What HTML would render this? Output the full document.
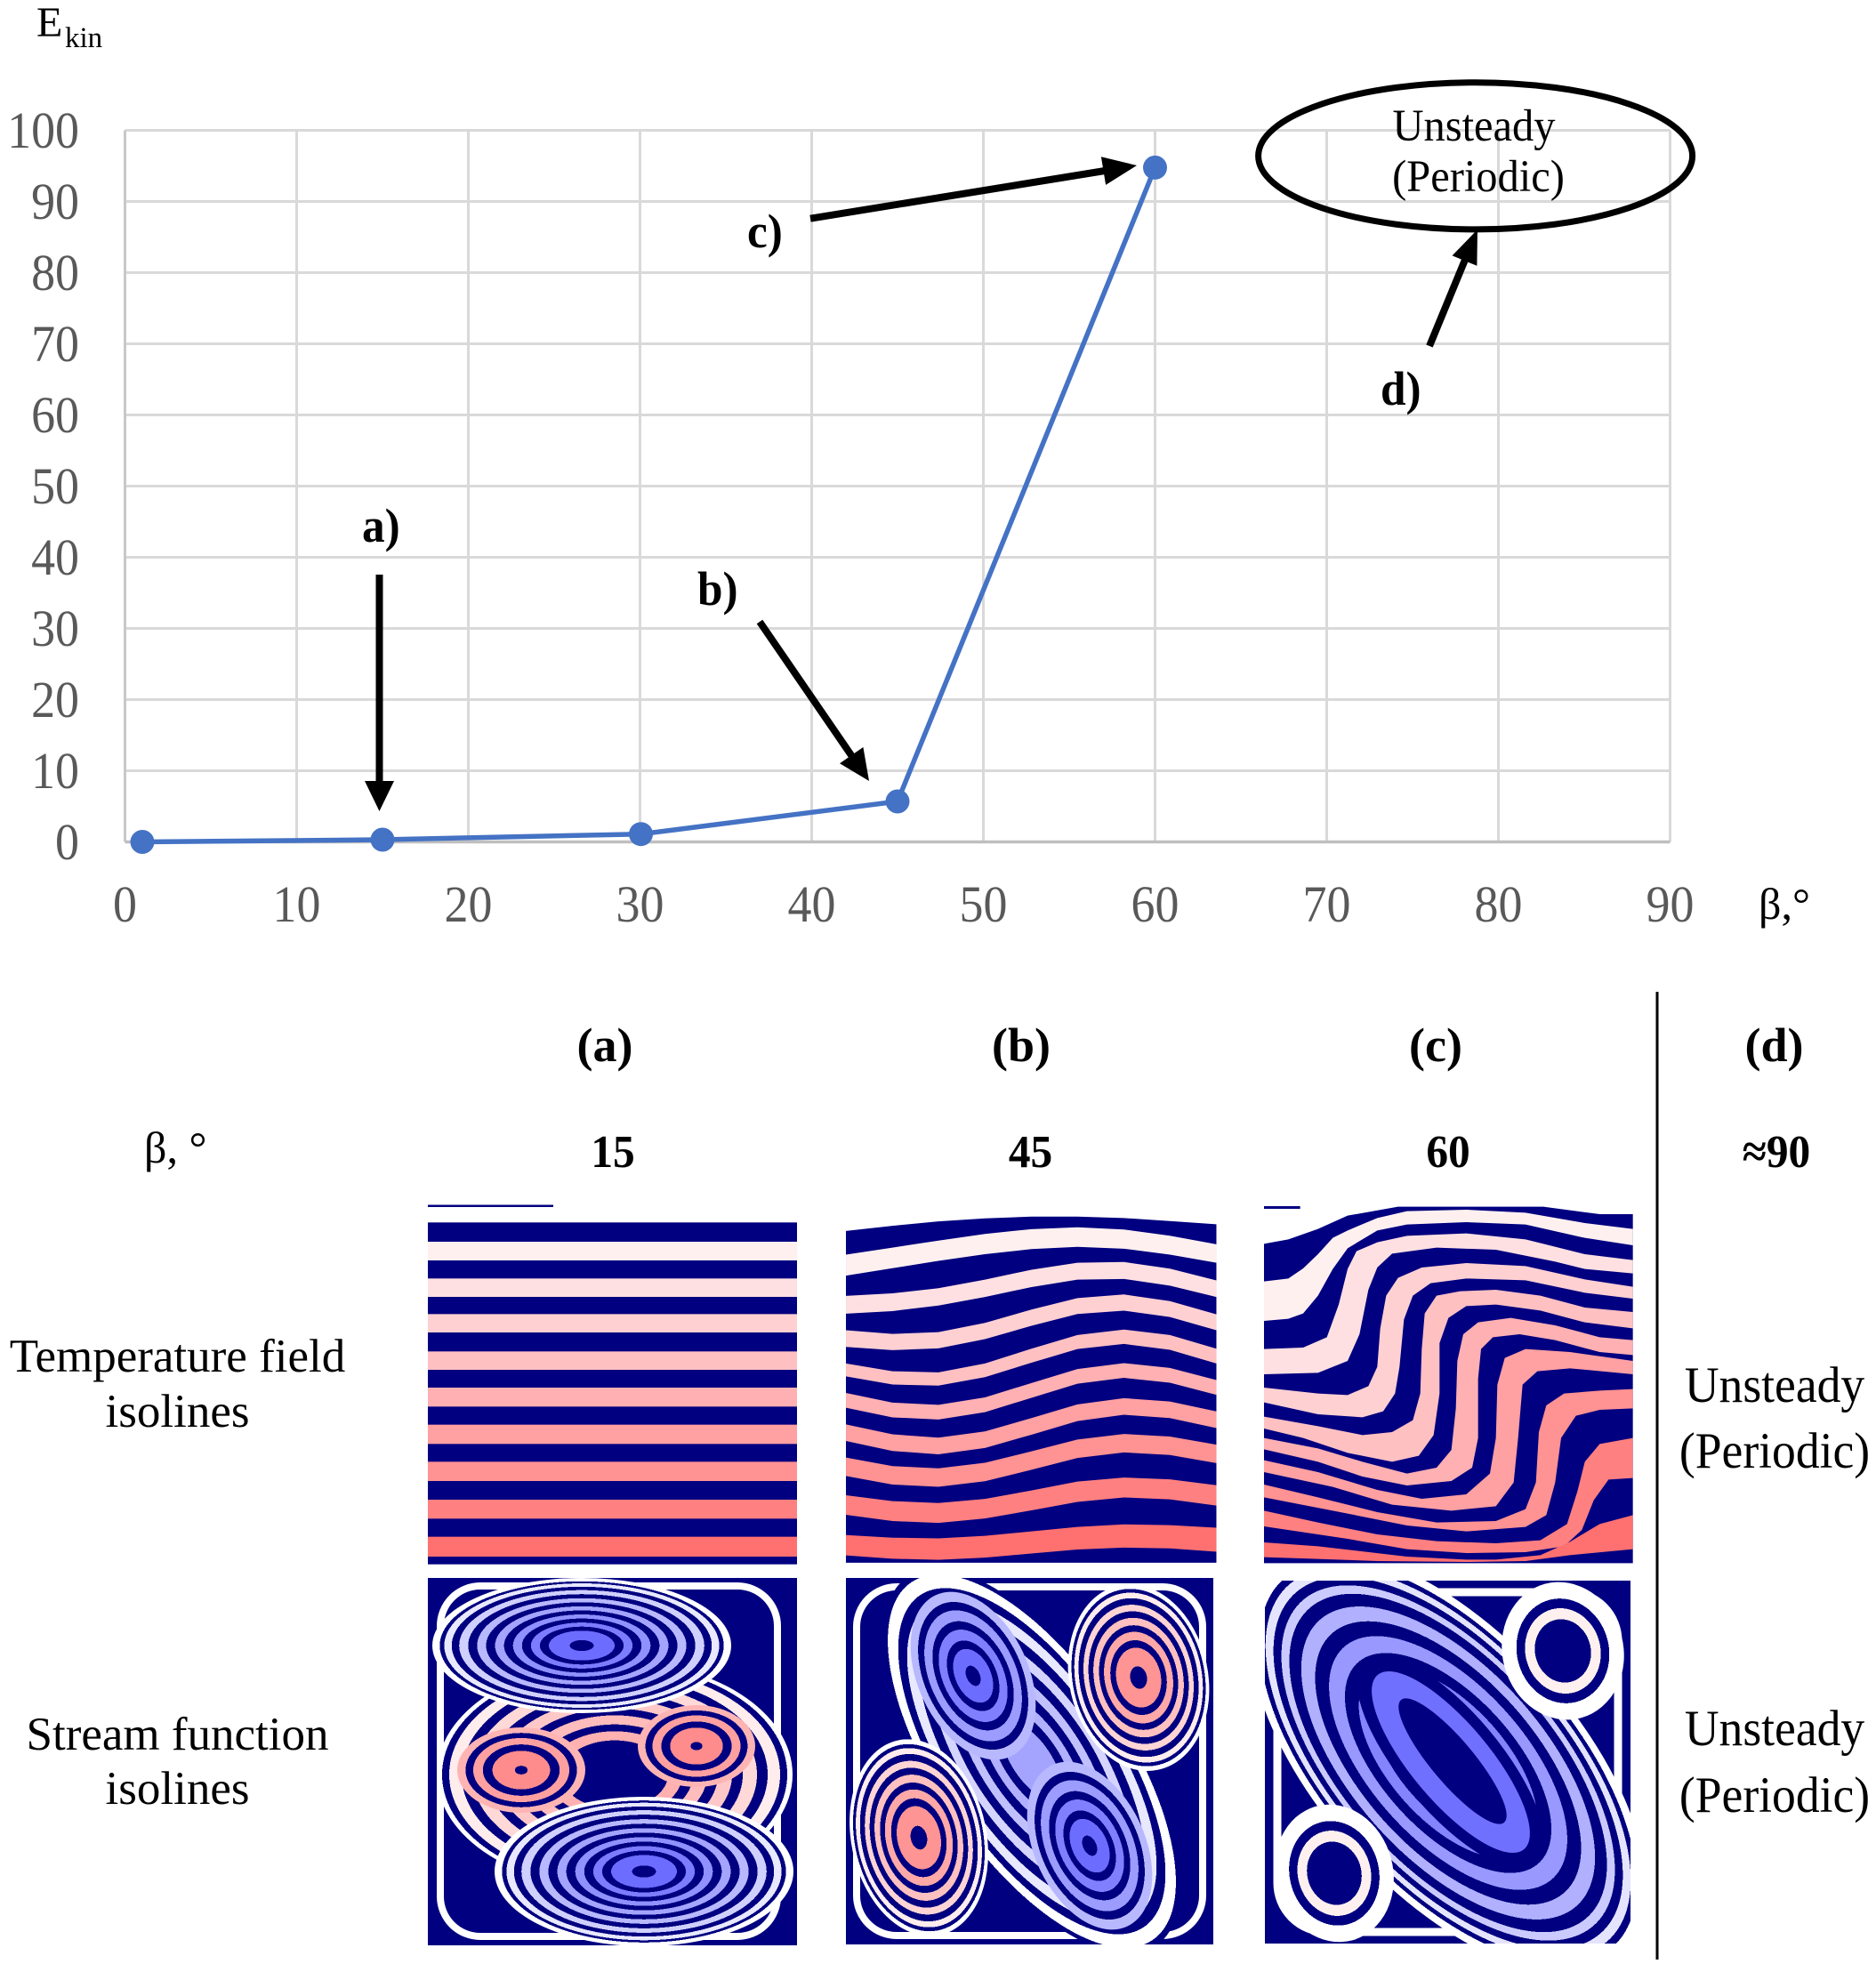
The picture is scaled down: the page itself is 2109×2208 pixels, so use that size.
<!DOCTYPE html>
<html><head><meta charset="utf-8">
<style>
html,body{margin:0;padding:0;background:#fff}
svg{display:block}
text{font-family:"Liberation Serif","Times New Roman",serif}
</style></head>
<body>
<svg width="2109" height="2208" viewBox="0 0 2109 2208" xmlns="http://www.w3.org/2000/svg">
<defs>
<radialGradient id="gBa">
<stop offset="0" stop-color="#000080"/><stop offset=".08" stop-color="#000080"/>
<stop offset=".08" stop-color="#6c6cff"/><stop offset=".22" stop-color="#6c6cff"/>
<stop offset=".22" stop-color="#000080"/><stop offset=".28" stop-color="#000080"/>
<stop offset=".28" stop-color="#7c7cff"/><stop offset=".34" stop-color="#7c7cff"/>
<stop offset=".34" stop-color="#000080"/><stop offset=".4" stop-color="#000080"/>
<stop offset=".4" stop-color="#9090ff"/><stop offset=".46" stop-color="#9090ff"/>
<stop offset=".46" stop-color="#000080"/><stop offset=".52" stop-color="#000080"/>
<stop offset=".52" stop-color="#a4a4ff"/><stop offset=".58" stop-color="#a4a4ff"/>
<stop offset=".58" stop-color="#000080"/><stop offset=".64" stop-color="#000080"/>
<stop offset=".64" stop-color="#b8b8ff"/><stop offset=".7" stop-color="#b8b8ff"/>
<stop offset=".7" stop-color="#000080"/><stop offset=".76" stop-color="#000080"/>
<stop offset=".76" stop-color="#d0d0ff"/><stop offset=".82" stop-color="#d0d0ff"/>
<stop offset=".82" stop-color="#000080"/><stop offset=".87" stop-color="#000080"/>
<stop offset=".87" stop-color="#e8e8ff"/><stop offset=".92" stop-color="#e8e8ff"/>
<stop offset=".92" stop-color="#000080"/><stop offset=".95" stop-color="#000080"/>
<stop offset=".95" stop-color="#fff"/><stop offset="1" stop-color="#fff"/>
</radialGradient>
<radialGradient id="gB2">
<stop offset="0" stop-color="#000080"/><stop offset=".12" stop-color="#000080"/>
<stop offset=".12" stop-color="#6c6cff"/><stop offset=".32" stop-color="#6c6cff"/>
<stop offset=".32" stop-color="#000080"/><stop offset=".42" stop-color="#000080"/>
<stop offset=".42" stop-color="#8080ff"/><stop offset=".55" stop-color="#8080ff"/>
<stop offset=".55" stop-color="#000080"/><stop offset=".65" stop-color="#000080"/>
<stop offset=".65" stop-color="#9c9cff"/><stop offset=".78" stop-color="#9c9cff"/>
<stop offset=".78" stop-color="#000080"/><stop offset=".88" stop-color="#000080"/>
<stop offset=".88" stop-color="#b8b8ff"/><stop offset="1" stop-color="#b8b8ff"/>
</radialGradient>
<radialGradient id="gBS">
<stop offset="0" stop-color="#a4a4ff"/><stop offset=".2" stop-color="#a4a4ff"/>
<stop offset=".2" stop-color="#000080"/><stop offset=".28" stop-color="#000080"/>
<stop offset=".28" stop-color="#b0b0ff"/><stop offset=".36" stop-color="#b0b0ff"/>
<stop offset=".36" stop-color="#000080"/><stop offset=".44" stop-color="#000080"/>
<stop offset=".44" stop-color="#c0c0ff"/><stop offset=".52" stop-color="#c0c0ff"/>
<stop offset=".52" stop-color="#000080"/><stop offset=".6" stop-color="#000080"/>
<stop offset=".6" stop-color="#d4d4ff"/><stop offset=".68" stop-color="#d4d4ff"/>
<stop offset=".68" stop-color="#000080"/><stop offset=".76" stop-color="#000080"/>
<stop offset=".76" stop-color="#e8e8ff"/><stop offset=".84" stop-color="#e8e8ff"/>
<stop offset=".84" stop-color="#000080"/><stop offset=".9" stop-color="#000080"/>
<stop offset=".9" stop-color="#fff"/><stop offset=".97" stop-color="#fff"/>
<stop offset=".97" stop-color="#000080"/><stop offset="1" stop-color="#000080"/>
</radialGradient>
<radialGradient id="gP">
<stop offset="0" stop-color="#000080"/><stop offset=".12" stop-color="#000080"/>
<stop offset=".12" stop-color="#ff9494"/><stop offset=".32" stop-color="#ff9494"/>
<stop offset=".32" stop-color="#000080"/><stop offset=".4" stop-color="#000080"/>
<stop offset=".4" stop-color="#ffa8a8"/><stop offset=".49" stop-color="#ffa8a8"/>
<stop offset=".49" stop-color="#000080"/><stop offset=".56" stop-color="#000080"/>
<stop offset=".56" stop-color="#ffc0c0"/><stop offset=".64" stop-color="#ffc0c0"/>
<stop offset=".64" stop-color="#000080"/><stop offset=".71" stop-color="#000080"/>
<stop offset=".71" stop-color="#ffd4d4"/><stop offset=".78" stop-color="#ffd4d4"/>
<stop offset=".78" stop-color="#000080"/><stop offset=".85" stop-color="#000080"/>
<stop offset=".85" stop-color="#ffecec"/><stop offset=".91" stop-color="#ffecec"/>
<stop offset=".91" stop-color="#000080"/><stop offset=".95" stop-color="#000080"/>
<stop offset=".95" stop-color="#fff"/><stop offset="1" stop-color="#fff"/>
</radialGradient>
<radialGradient id="gPa">
<stop offset="0" stop-color="#000080"/><stop offset=".1" stop-color="#000080"/>
<stop offset=".1" stop-color="#ff8c8c"/><stop offset=".45" stop-color="#ff8c8c"/>
<stop offset=".45" stop-color="#000080"/><stop offset=".6" stop-color="#000080"/>
<stop offset=".6" stop-color="#ffa0a0"/><stop offset=".75" stop-color="#ffa0a0"/>
<stop offset=".75" stop-color="#000080"/><stop offset=".87" stop-color="#000080"/>
<stop offset=".87" stop-color="#ffb4b4"/><stop offset="1" stop-color="#ffb4b4"/>
</radialGradient>
<radialGradient id="gPS">
<stop offset="0" stop-color="#000080"/><stop offset=".3" stop-color="#000080"/>
<stop offset=".3" stop-color="#ffb0b0"/><stop offset=".38" stop-color="#ffb0b0"/>
<stop offset=".38" stop-color="#000080"/><stop offset=".44" stop-color="#000080"/>
<stop offset=".44" stop-color="#ffbcbc"/><stop offset=".52" stop-color="#ffbcbc"/>
<stop offset=".52" stop-color="#000080"/><stop offset=".58" stop-color="#000080"/>
<stop offset=".58" stop-color="#ffc8c8"/><stop offset=".66" stop-color="#ffc8c8"/>
<stop offset=".66" stop-color="#000080"/><stop offset=".72" stop-color="#000080"/>
<stop offset=".72" stop-color="#ffd8d8"/><stop offset=".8" stop-color="#ffd8d8"/>
<stop offset=".8" stop-color="#000080"/><stop offset=".86" stop-color="#000080"/>
<stop offset=".86" stop-color="#ffecec"/><stop offset=".93" stop-color="#ffecec"/>
<stop offset=".93" stop-color="#000080"/><stop offset=".97" stop-color="#000080"/>
<stop offset=".97" stop-color="#fff"/><stop offset="1" stop-color="#fff"/>
</radialGradient>
<radialGradient id="gBC">
<stop offset="0" stop-color="#7474ff"/><stop offset=".3" stop-color="#7474ff"/>
<stop offset=".3" stop-color="#000080"/><stop offset=".37" stop-color="#000080"/>
<stop offset=".37" stop-color="#8484ff"/><stop offset=".45" stop-color="#8484ff"/>
<stop offset=".45" stop-color="#000080"/><stop offset=".52" stop-color="#000080"/>
<stop offset=".52" stop-color="#9898ff"/><stop offset=".6" stop-color="#9898ff"/>
<stop offset=".6" stop-color="#000080"/><stop offset=".67" stop-color="#000080"/>
<stop offset=".67" stop-color="#b0b0ff"/><stop offset=".74" stop-color="#b0b0ff"/>
<stop offset=".74" stop-color="#000080"/><stop offset=".8" stop-color="#000080"/>
<stop offset=".8" stop-color="#cacaff"/><stop offset=".84" stop-color="#cacaff"/>
<stop offset=".84" stop-color="#000080"/><stop offset=".88" stop-color="#000080"/>
<stop offset=".88" stop-color="#e4e4ff"/><stop offset=".92" stop-color="#e4e4ff"/>
<stop offset=".92" stop-color="#000080"/><stop offset=".95" stop-color="#000080"/>
<stop offset=".95" stop-color="#fff"/><stop offset="1" stop-color="#fff"/>
</radialGradient>
<radialGradient id="gW">
<stop offset="0" stop-color="#000080"/><stop offset=".46" stop-color="#000080"/>
<stop offset=".46" stop-color="#fff0f0"/><stop offset=".62" stop-color="#fff0f0"/>
<stop offset=".62" stop-color="#000080"/><stop offset=".76" stop-color="#000080"/>
<stop offset=".76" stop-color="#fff"/><stop offset="1" stop-color="#fff"/>
</radialGradient>
<clipPath id="ca"><rect x="481" y="1774" width="415" height="413"/></clipPath>
<clipPath id="cb"><rect x="951" y="1774" width="413" height="412"/></clipPath>
<clipPath id="cc"><rect x="1422" y="1777" width="411" height="408"/></clipPath>
</defs>

<rect width="2109" height="2208" fill="#fff"/>

<!-- ===== CHART GRID ===== -->
<g stroke="#d9d9d9" stroke-width="3">
<line x1="140.5" y1="146.5" x2="1877.5" y2="146.5"/>
<line x1="140.5" y1="226.5" x2="1877.5" y2="226.5"/>
<line x1="140.5" y1="306.5" x2="1877.5" y2="306.5"/>
<line x1="140.5" y1="386.5" x2="1877.5" y2="386.5"/>
<line x1="140.5" y1="466.5" x2="1877.5" y2="466.5"/>
<line x1="140.5" y1="546.5" x2="1877.5" y2="546.5"/>
<line x1="140.5" y1="626.5" x2="1877.5" y2="626.5"/>
<line x1="140.5" y1="706.5" x2="1877.5" y2="706.5"/>
<line x1="140.5" y1="786.5" x2="1877.5" y2="786.5"/>
<line x1="140.5" y1="866.5" x2="1877.5" y2="866.5"/>
<line x1="333.5" y1="146.5" x2="333.5" y2="946.5"/>
<line x1="526.5" y1="146.5" x2="526.5" y2="946.5"/>
<line x1="719.5" y1="146.5" x2="719.5" y2="946.5"/>
<line x1="912.5" y1="146.5" x2="912.5" y2="946.5"/>
<line x1="1105.5" y1="146.5" x2="1105.5" y2="946.5"/>
<line x1="1298.5" y1="146.5" x2="1298.5" y2="946.5"/>
<line x1="1491.5" y1="146.5" x2="1491.5" y2="946.5"/>
<line x1="1684.5" y1="146.5" x2="1684.5" y2="946.5"/>
<line x1="1877.5" y1="146.5" x2="1877.5" y2="946.5"/>
</g>
<line x1="140.5" y1="146.5" x2="140.5" y2="946.5" stroke="#c8c8c8" stroke-width="3"/>
<line x1="140.5" y1="946.5" x2="1877.5" y2="946.5" stroke="#bfbfbf" stroke-width="3.5"/>

<!-- Y ticks -->
<g fill="#595959" font-size="58" text-anchor="end">
<text transform="translate(89,166) scale(0.93,1)">100</text>
<text transform="translate(89,246) scale(0.93,1)">90</text>
<text transform="translate(89,326) scale(0.93,1)">80</text>
<text transform="translate(89,406) scale(0.93,1)">70</text>
<text transform="translate(89,486) scale(0.93,1)">60</text>
<text transform="translate(89,566) scale(0.93,1)">50</text>
<text transform="translate(89,646) scale(0.93,1)">40</text>
<text transform="translate(89,726) scale(0.93,1)">30</text>
<text transform="translate(89,806) scale(0.93,1)">20</text>
<text transform="translate(89,886) scale(0.93,1)">10</text>
<text transform="translate(89,966) scale(0.93,1)">0</text>
</g>
<!-- X ticks -->
<g fill="#595959" font-size="58" text-anchor="middle">
<text transform="translate(140.5,1036) scale(0.93,1)">0</text>
<text transform="translate(333.5,1036) scale(0.93,1)">10</text>
<text transform="translate(526.5,1036) scale(0.93,1)">20</text>
<text transform="translate(719.5,1036) scale(0.93,1)">30</text>
<text transform="translate(912.5,1036) scale(0.93,1)">40</text>
<text transform="translate(1105.5,1036) scale(0.93,1)">50</text>
<text transform="translate(1298.5,1036) scale(0.93,1)">60</text>
<text transform="translate(1491.5,1036) scale(0.93,1)">70</text>
<text transform="translate(1684.5,1036) scale(0.93,1)">80</text>
<text transform="translate(1877.5,1036) scale(0.93,1)">90</text>
</g>
<text x="1977" y="1033" font-size="50" fill="#000">β,°</text>
<text x="41" y="41" font-size="48" fill="#000">E</text>
<text x="73" y="53" font-size="33" fill="#000">kin</text>

<!-- Series -->
<polyline points="160,946.5 430,944 720.5,937.7 1009,901 1298.5,188.4" fill="none" stroke="#4472c4" stroke-width="5.5" stroke-linejoin="round"/>
<g fill="#4472c4">
<circle cx="160" cy="946.5" r="13.5"/>
<circle cx="430" cy="944" r="13.5"/>
<circle cx="720.5" cy="937.7" r="13.5"/>
<circle cx="1009" cy="901" r="13.5"/>
<circle cx="1298.5" cy="188.4" r="13.5"/>
</g>

<!-- Arrows -->
<g stroke="#000" stroke-width="8" fill="none">
<line x1="426.5" y1="646" x2="426.5" y2="882"/>
<line x1="854" y1="699" x2="959" y2="852"/>
<line x1="911" y1="245.7" x2="1242" y2="192"/>
<line x1="1607" y1="389" x2="1647" y2="292"/>
</g>
<g fill="#000">
<polygon points="410,878 443,878 426.5,912"/>
<polygon points="970.4,840 944,858.2 977,878"/>
<polygon points="1243.1,207.9 1237.9,176.3 1278,186"/>
<polygon points="1660.4,298.8 1632.6,287.4 1661,258"/>
</g>
<g font-size="54" font-weight="bold" fill="#000">
<text transform="translate(407,609) scale(0.95,1)">a)</text>
<text transform="translate(784,680) scale(0.95,1)">b)</text>
<text transform="translate(840,278) scale(0.95,1)">c)</text>
<text transform="translate(1552,455) scale(0.95,1)">d)</text>
</g>
<ellipse cx="1658.6" cy="175.3" rx="244" ry="82.6" fill="none" stroke="#000" stroke-width="7"/>
<g font-size="51" fill="#000" text-anchor="middle">
<text transform="translate(1657,158) scale(0.95,1)">Unsteady</text>
<text transform="translate(1662,215) scale(0.95,1)">(Periodic)</text>
</g>

<!-- ===== BOTTOM TABLE ===== -->
<line x1="1863" y1="1115" x2="1863" y2="2203" stroke="#000" stroke-width="3"/>
<g font-size="54" font-weight="bold" fill="#000" text-anchor="middle">
<text x="680" y="1193">(a)</text>
<text x="1148" y="1193">(b)</text>
<text x="1614" y="1193">(c)</text>
<text x="1994.5" y="1193">(d)</text>
</g>
<g font-size="52" font-weight="bold" fill="#000" text-anchor="middle">
<text transform="translate(689,1312) scale(0.95,1)">15</text>
<text transform="translate(1158.5,1312) scale(0.95,1)">45</text>
<text transform="translate(1628,1312) scale(0.95,1)">60</text>
<text transform="translate(1997,1312) scale(0.95,1)">≈90</text>
</g>
<text x="162" y="1307" font-size="50" fill="#000">β, °</text>
<g font-size="53" fill="#000" text-anchor="middle">
<text x="199.5" y="1542">Temperature field</text>
<text x="199.5" y="1604">isolines</text>
<text x="199.5" y="1967">Stream function</text>
<text x="199.5" y="2028">isolines</text>
</g>
<g font-size="57" fill="#000" text-anchor="middle">
<text transform="translate(1995,1576) scale(0.94,1)">Unsteady</text>
<text transform="translate(1995,1650) scale(0.94,1)">(Periodic)</text>
<text transform="translate(1995,1962) scale(0.94,1)">Unsteady</text>
<text transform="translate(1995,2037) scale(0.94,1)">(Periodic)</text>
</g>

<!-- Temperature panel (a) -->
<rect x="481" y="1354.5" width="141" height="2.5" fill="#000080"/>
<g transform="translate(470,1340) scale(0.333333)">
<rect x="33" y="103" width="1245" height="1153" fill="#000080"/>
<rect x="33" y="168" width="1245" height="63" fill="#fff0f0"/>
<rect x="33" y="292" width="1245" height="62" fill="#ffe0e2"/>
<rect x="33" y="412" width="1245" height="62" fill="#ffd0d2"/>
<rect x="33" y="538" width="1245" height="62" fill="#ffc0c2"/>
<rect x="33" y="660" width="1245" height="64" fill="#ffb0b2"/>
<rect x="33" y="785" width="1245" height="65" fill="#ffa0a2"/>
<rect x="33" y="910" width="1245" height="65" fill="#ff9292"/>
<rect x="33" y="1038" width="1245" height="64" fill="#ff8080"/>
<rect x="33" y="1163" width="1245" height="67" fill="#ff7070"/>
</g>

<!-- Temperature panel (b) -->
<g transform="translate(900,1120) scale(0.63776,0.41494)">
<polygon fill="#000080" points="80,636 162,622 243,610 325,602 407,597 488,597 570,601 651,609 733,618 733,1535 80,1535"/>
<polygon fill="#fff0f0" points="80,700 162,681 243,662 325,644 407,631 488,626 570,632 651,649 733,672 733,722 651,700 570,684 488,679 407,685 325,699 243,717 162,737 80,757"/>
<polygon fill="#ffe0e2" points="80,812 162,805 243,791 325,768 407,741 488,722 570,720 651,738 733,770 733,815 651,784 570,766 488,768 407,788 325,815 243,838 162,853 80,860"/>
<polygon fill="#ffd0d2" points="80,905 162,915 243,910 325,885 407,849 488,818 570,808 651,826 733,862 733,905 651,869 570,852 488,861 407,893 325,929 243,954 162,959 80,950"/>
<polygon fill="#ffc0c2" points="80,995 162,1016 243,1019 325,995 407,955 488,918 570,903 651,918 733,955 733,995 651,958 570,942 488,956 407,993 325,1032 243,1055 162,1052 80,1030"/>
<polygon fill="#ffb0b2" points="80,1075 162,1101 243,1107 325,1087 407,1048 488,1010 570,994 651,1007 733,1040 733,1080 651,1047 570,1034 488,1050 407,1088 325,1127 243,1147 162,1141 80,1115"/>
<polygon fill="#ffa0a2" points="80,1160 162,1187 243,1196 325,1179 407,1143 488,1106 570,1089 651,1098 733,1125 733,1170 651,1143 570,1134 488,1151 407,1188 325,1224 243,1241 162,1232 80,1205"/>
<polygon fill="#ff9292" points="80,1250 162,1273 243,1279 325,1264 407,1233 488,1201 570,1186 651,1193 733,1215 733,1265 651,1243 570,1236 488,1251 407,1283 325,1314 243,1329 162,1323 80,1300"/>
<polygon fill="#ff8080" points="80,1352 162,1368 243,1373 325,1362 407,1339 488,1315 570,1304 651,1309 733,1325 733,1380 651,1363 570,1358 488,1370 407,1393 325,1415 243,1427 162,1422 80,1405"/>
<polygon fill="#ff7070" points="80,1460 162,1467 243,1469 325,1462 407,1450 488,1438 570,1431 651,1433 733,1440 733,1505 651,1496 570,1494 488,1499 407,1510 325,1521 243,1527 162,1524 80,1515"/>
</g>

<!-- Temperature panel (c) -->
<g transform="translate(1415,1350) scale(0.333333)">
<rect x="18" y="18" width="122" height="9" fill="#000080"/>
<polygon fill="#000080" points="18,145 100,130 200,95 300,50 470,20 960,20 1150,45 1262,45 1262,1222 18,1222"/>
<polygon fill="#fff0f0" points="18,272 100,262 150,228 200,180 250,125 300,100 400,58 500,35 700,30 900,40 1100,75 1262,95 1262,150 1100,125 900,80 700,72 500,80 400,100 300,160 250,230 200,320 150,380 100,398 18,405"/>
<polygon fill="#ffe0e2" points="18,500 150,495 230,460 270,350 300,230 330,170 400,140 500,118 700,110 900,130 1100,180 1262,200 1262,245 1100,230 1000,205 800,165 600,158 450,178 400,225 370,300 340,450 300,540 200,580 18,585"/>
<polygon fill="#ffd0d2" points="18,630 200,650 300,655 370,625 400,560 410,430 430,320 470,260 550,225 700,210 900,220 1100,265 1262,290 1262,330 1100,310 900,268 700,262 580,278 520,320 490,400 475,560 460,650 420,710 350,730 200,720 18,680"/>
<polygon fill="#ffc0c2" points="18,728 200,760 350,790 450,780 520,740 545,650 550,500 560,380 600,320 680,305 800,300 950,320 1100,360 1262,375 1262,430 1100,410 950,370 800,350 700,355 640,395 610,480 610,650 590,790 540,860 450,880 300,850 150,800 18,768"/>
<polygon fill="#ffb0b2" points="18,800 200,835 350,880 500,920 600,900 650,840 665,700 670,540 690,450 740,410 850,395 1000,420 1150,460 1262,470 1262,520 1150,510 1000,470 880,450 790,460 750,500 740,600 740,800 720,900 650,945 500,960 350,930 200,880 18,838"/>
<polygon fill="#ffa0a2" points="18,875 200,915 400,975 550,1005 700,990 780,920 800,800 805,620 830,530 900,500 1050,510 1262,540 1262,585 1050,565 940,575 890,620 875,800 860,950 800,1030 650,1045 450,1025 250,965 18,915"/>
<polygon fill="#ff9292" points="18,957 200,1000 400,1050 600,1085 800,1080 900,1040 935,950 945,780 970,690 1030,650 1150,640 1262,635 1262,700 1150,705 1070,725 1020,800 1000,950 970,1060 900,1100 700,1115 500,1095 300,1055 18,1000"/>
<polygon fill="#ff8080" points="18,1045 200,1085 400,1125 600,1148 800,1155 950,1145 1040,1090 1075,980 1100,880 1150,820 1262,800 1262,935 1180,940 1130,1010 1090,1110 1030,1165 900,1185 700,1188 500,1175 300,1140 18,1098"/>
<polygon fill="#ff7070" points="18,1152 200,1165 500,1200 700,1210 800,1210 950,1195 1050,1150 1150,1090 1262,1060 1262,1175 1050,1195 900,1215 700,1218 400,1215 200,1208 18,1202"/>
</g>

<!-- Stream panel (a) -->
<g clip-path="url(#ca)">
<rect x="481" y="1774" width="415" height="413" fill="#000080"/>
<rect x="495" y="1783" width="379" height="394" rx="45" fill="none" stroke="#fff" stroke-width="8"/>
<ellipse cx="691" cy="1995" rx="200" ry="128" fill="url(#gPS)"/>
<ellipse cx="654" cy="1850" rx="168" ry="76" fill="url(#gBa)"/>
<ellipse cx="724" cy="2104" rx="168" ry="84" fill="url(#gBa)"/>
<ellipse cx="586" cy="1990" rx="72" ry="48" fill="url(#gPa)"/>
<ellipse cx="783" cy="1963" rx="66" ry="46" fill="url(#gPa)"/>
</g>

<!-- Stream panel (b) -->
<g clip-path="url(#cb)">
<rect x="951" y="1774" width="413" height="412" fill="#000080"/>
<rect x="963" y="1784" width="389" height="392" rx="45" fill="none" stroke="#fff" stroke-width="8"/>
<ellipse cx="1160" cy="1980" rx="110" ry="250" transform="rotate(-34 1160 1980)" fill="url(#gBS)"/>
<ellipse cx="1280" cy="1886" rx="78" ry="106" transform="rotate(-12 1280 1886)" fill="url(#gP)"/>
<ellipse cx="1033" cy="2066" rx="76" ry="112" transform="rotate(-12 1033 2066)" fill="url(#gP)"/>
<ellipse cx="1094" cy="1884" rx="62" ry="100" transform="rotate(-25 1094 1884)" fill="url(#gB2)"/>
<ellipse cx="1225" cy="2075" rx="62" ry="100" transform="rotate(-25 1225 2075)" fill="url(#gB2)"/>
</g>

<!-- Stream panel (c) -->
<g clip-path="url(#cc)">
<rect x="1422" y="1777" width="411" height="408" fill="#000080"/>
<rect x="1436" y="1790" width="383" height="382" rx="55" fill="none" stroke="#fff" stroke-width="9"/>
<ellipse cx="1628" cy="1982" rx="145" ry="292" transform="rotate(-42 1628 1982)" fill="url(#gBC)"/>
<ellipse cx="1631" cy="1981" rx="56" ry="150" transform="rotate(-40 1631 1981)" fill="#000080"/>
<ellipse cx="1631" cy="1981" rx="44" ry="128" transform="rotate(-40 1631 1981)" fill="#7070ff"/>
<ellipse cx="1633" cy="1980" rx="24" ry="90" transform="rotate(-40 1633 1980)" fill="#000080"/>
<ellipse cx="1757" cy="1856" rx="68" ry="78" transform="rotate(-15 1757 1856)" fill="url(#gW)"/>
<ellipse cx="1500" cy="2106" rx="66" ry="78" transform="rotate(-15 1500 2106)" fill="url(#gW)"/>
</g>
</svg>
</body></html>
